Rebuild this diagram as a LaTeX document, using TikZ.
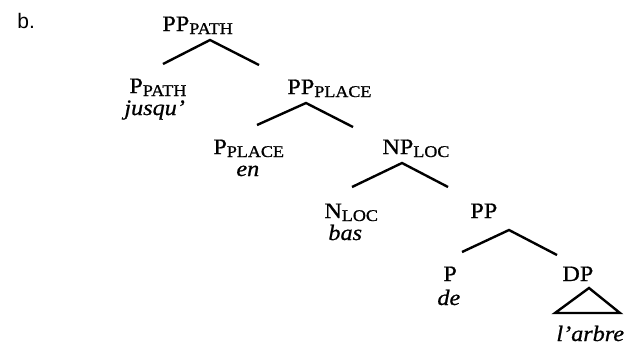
\documentclass[tikz,border=0pt]{standalone}
\usepackage{fontspec}
\setmainfont{Liberation Serif}[FakeStretch=1.1, FakeBold=0.8]
\newfontfamily\labelfont{Liberation Sans}
\usepackage{tikz}
\usetikzlibrary{positioning}

\newcommand{\lsub}[1]{\raisebox{-1.5pt}{\fontsize{8.2}{9}\selectfont #1}}

\begin{document}
\begin{tikzpicture}[x=0.5pt, y=-0.5pt,
    cat/.style={anchor=base west, inner sep=0pt, font=\fontsize{11}{13}\selectfont},
    word/.style={cat, font=\fontsize{11}{13}\selectfont\itshape},
    branch/.style={line width=1.2pt}]
    \useasboundingbox (0,0) rectangle (630,344);
    \node[anchor=base west, inner sep=0pt, font=\labelfont\fontsize{10.5}{12}\selectfont] (ex) at (17,28) {b.};
    % categories and words
    \node[cat] (pp-path) at (162,31) {PP\lsub{PATH}};
    \node[cat] (p-path) at (129,93) {P\lsub{PATH}};
    \node[word] (w-jusqu) at (124,115) {jusqu'};
    \node[cat] (pp-place) at (287,94) {PP\lsub{PLACE}};
    \node[cat] (p-place) at (213,154) {P\lsub{PLACE}};
    \node[word] (w-en) at (236,176) {en};
    \node[cat] (np-loc) at (382,154) {NP\lsub{LOC}};
    \node[cat] (n-loc) at (324,218) {N\lsub{LOC}};
    \node[word] (w-bas) at (328,240) {bas};
    \node[cat] (pp) at (470,218) {PP};
    \node[cat] (p) at (443,281) {P};
    \node[word] (w-de) at (437,305) {de};
    \node[cat] (dp) at (562,281) {DP};
    \node[word] (w-arbre) at (556,341) {l'arbre};
    % branches
    \foreach \tn/\ax/\ay/\lx/\ly/\rx/\ry in {t1/210/40/163/64/259/65,
        t2/306/103/257/125/353/127, t3/402/163/352/187/448/187,
        t4/509/230/462/252/557/255} {
        \coordinate (\tn) at (\ax,\ay);
        \coordinate (\tn-l) at (\lx,\ly);
        \coordinate (\tn-r) at (\rx,\ry);
        \draw[branch] (\tn-l) -- (\tn) -- (\tn-r);
    }
    \coordinate (tri) at (589,288);
    \coordinate (tri-l) at (555,313);
    \coordinate (tri-r) at (620,313);
    \draw[branch, line join=miter] (tri) -- (tri-l) -- (tri-r) -- cycle;
\end{tikzpicture}
\end{document}
